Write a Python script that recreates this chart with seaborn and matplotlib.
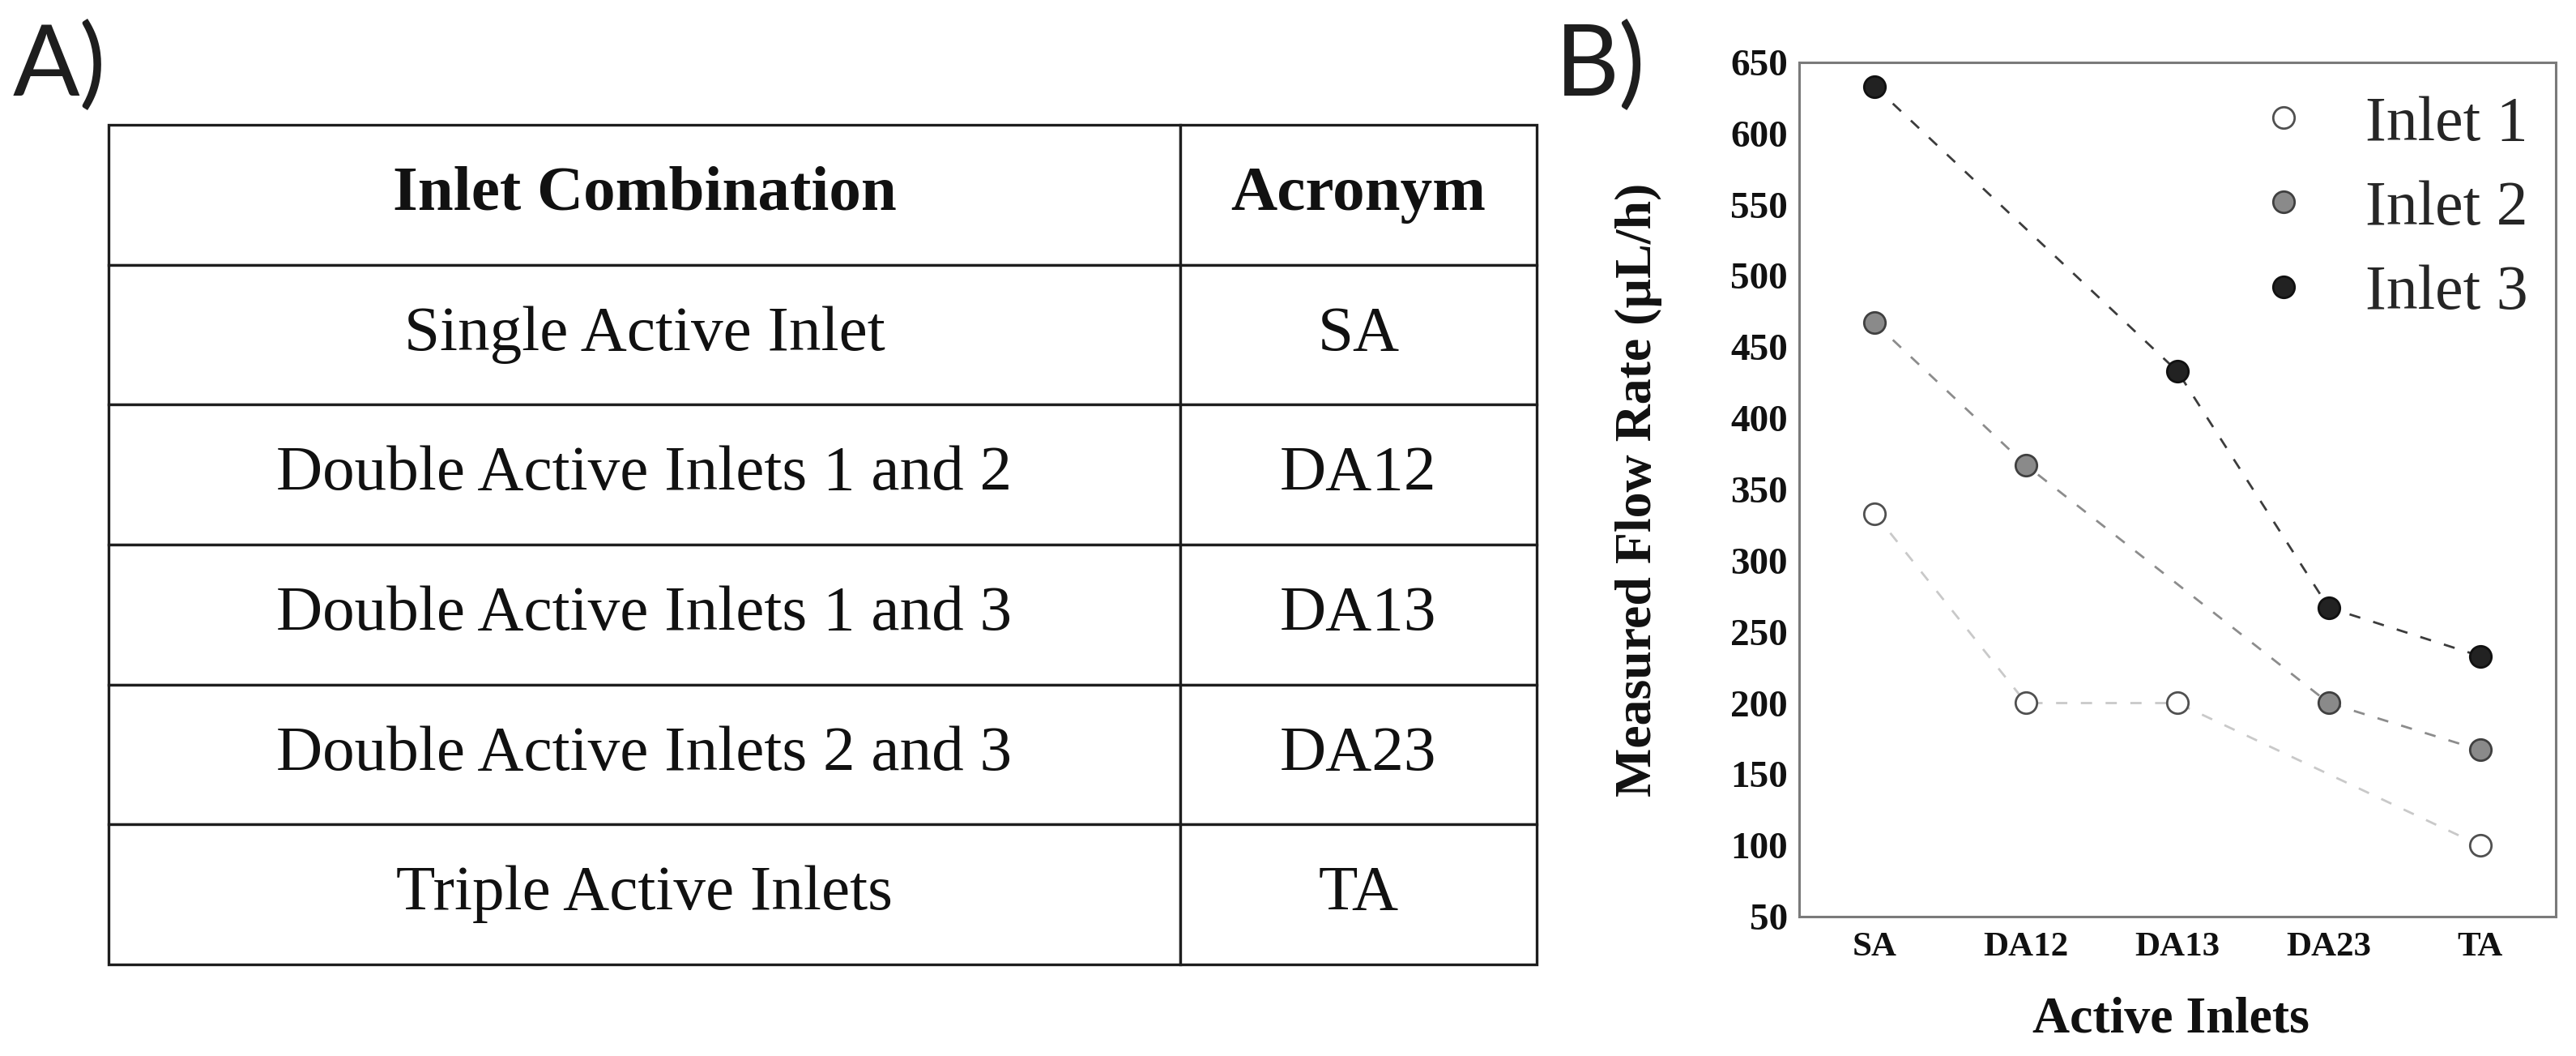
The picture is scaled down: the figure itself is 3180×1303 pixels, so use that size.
import numpy as np
import pandas as pd
import matplotlib
matplotlib.use('Agg')
import matplotlib.pyplot as plt
import seaborn as sns
from matplotlib.lines import Line2D
from matplotlib.ticker import MultipleLocator

# ---- data ----
table_header = ['Inlet Combination', 'Acronym']
combinations = ['Single Active Inlet', 'Double Active Inlets 1 and 2',
                'Double Active Inlets 1 and 3', 'Double Active Inlets 2 and 3',
                'Triple Active Inlets']
acronyms = ['SA', 'DA12', 'DA13', 'DA23', 'TA']

# measured flow rate (uL/h), NaN where the inlet is not active
inlet1 = [333, 200, 200, np.nan, 100]
inlet2 = [467, 367, np.nan, 200, 167]
inlet3 = [633, np.nan, 433, 267, 233]
series_names = ['Inlet 1', 'Inlet 2', 'Inlet 3']

# ---- style ----
sns.set_style('white')
plt.rcParams['font.family'] = ['Liberation Serif', 'DejaVu Serif']

W, H = 3180, 1303
fig = plt.figure(figsize=(W / 100, H / 100), dpi=100)
fig.patch.set_facecolor('white')

def fx(px):
    return px / W

def fy(py):
    return 1 - py / H

# ============ A) table ============
ax_t = fig.add_axes([fx(134), fy(1190), fx(1897 - 134), (1190 - 154) / H])
ax_t.axis('off')
tbl = ax_t.table(cellText=[[c, a] for c, a in zip(combinations, acronyms)],
                 colLabels=table_header, colWidths=[0.7504, 0.2496],
                 cellLoc='center', loc='center', bbox=[0, 0, 1, 1])
tbl.auto_set_font_size(False)
for (r, c), cell in tbl.get_celld().items():
    cell.set_edgecolor('#1e1e1e')
    cell.set_linewidth(2.4)
    txt = cell.get_text()
    txt.set_fontsize(57)
    txt.set_color('#111111')
    txt.set_fontweight('bold' if r == 0 else 'normal')

# panel letters
for px, letter in [(16, 'A)'), (1920, 'B)')]:
    fig.text(fx(px), fy(118), letter, fontsize=88, family=['Lato', 'DejaVu Sans'],
             fontweight='normal', color='#1e1e1e', ha='left', va='baseline')

# ============ B) line chart ============
ax = fig.add_axes([fx(2221), fy(1131), fx(3155 - 2221), (1131 - 77) / H])

xpos = np.arange(len(acronyms))
styles = [
    dict(line='#c9c9c9', face='white', edge='#505050'),
    dict(line='#8c8c8c', face='#8a8a8a', edge='#404040'),
    dict(line='#3c3c3c', face='#222222', edge='#111111'),
]
for name, vals, st in zip(series_names, [inlet1, inlet2, inlet3], styles):
    df = pd.DataFrame({'x': xpos, 'y': vals}).dropna()
    sns.lineplot(data=df, x='x', y='y', ax=ax, color=st['line'],
                 linestyle=(0, (5, 6)), linewidth=2.0, marker='o',
                 markersize=19, markerfacecolor=st['face'],
                 markeredgecolor=st['edge'], markeredgewidth=2.0)

ax.set_xlim(-0.5, 4.5)
ax.set_ylim(50, 650)
ax.set_xticks(xpos)
ax.set_xticklabels(acronyms)
ax.yaxis.set_major_locator(MultipleLocator(50))
ax.yaxis.set_minor_locator(MultipleLocator(25))
ax.tick_params(axis='x', length=0, pad=14, labelsize=31)
ax.tick_params(axis='y', which='major', direction='in', length=8.5, width=1.5,
               color='#777777', pad=10, labelsize=34)
ax.tick_params(axis='y', which='minor', direction='in', length=4.3, width=1.5,
               color='#777777')
for lab in ax.get_xticklabels() + ax.get_yticklabels():
    lab.set_fontweight('bold')
    lab.set_color('#111111')
for sp in ax.spines.values():
    sp.set_color('#7a7a7a')
    sp.set_linewidth(2.2)

ax.set_xlabel('Active Inlets', fontsize=46, fontweight='bold', color='#111111')
ax.set_ylabel('Measured Flow Rate (\u00b5L/h)', fontsize=46, fontweight='bold',
              color='#111111')
ax.xaxis.set_label_coords((2680 - 2221) / 934, (1131 - 1230) / 1054)
ax.yaxis.set_label_coords((2052 - 2221) / 934, 0.5)

handles = [Line2D([], [], ls='none', marker='o', markersize=19,
                  markerfacecolor=st['face'], markeredgecolor=st['edge'],
                  markeredgewidth=2.0) for st in styles]
ax.legend(handles, series_names, loc='upper left', frameon=False,
          bbox_to_anchor=(fx(2780), fy(118)), bbox_transform=fig.transFigure,
          fontsize=56, handlelength=1.0, handletextpad=0.8, labelspacing=0.42,
          borderpad=0, borderaxespad=0)

fig.savefig('out.png', dpi=100, facecolor='white')
